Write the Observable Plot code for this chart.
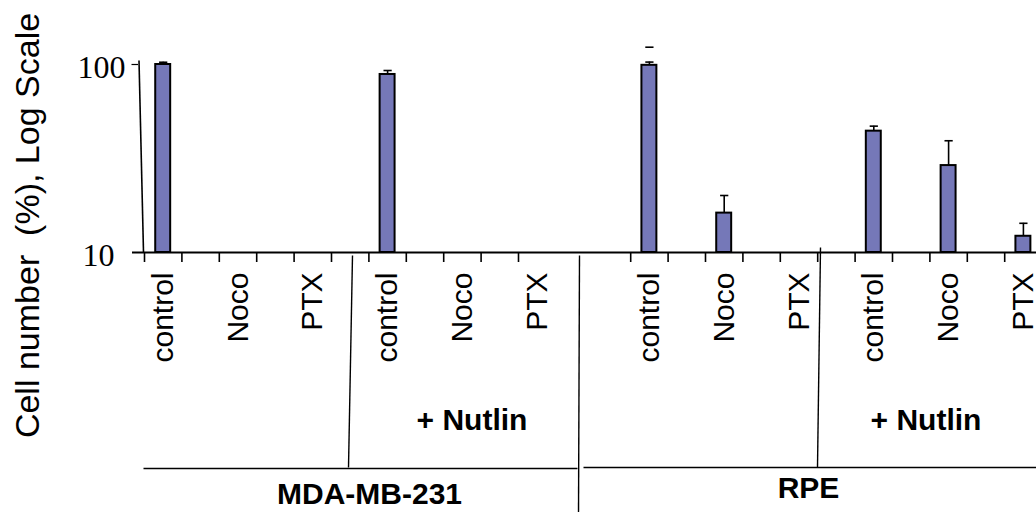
<!DOCTYPE html>
<html><head><meta charset="utf-8">
<script src="https://cdn.jsdelivr.net/npm/d3@7"></script>
<script src="https://cdn.jsdelivr.net/npm/@observablehq/plot@0.6"></script>
<style>
html,body{margin:0;padding:0;background:#fff;overflow:hidden;}
#chart svg{overflow:hidden;display:block;}
</style></head><body><div id="chart"></div>
<script>
// ---- data ----
const cellLines = ["MDA-MB-231", "RPE"];
const nutlinLabel = "+ Nutlin";
const categoryNames = ["control","Noco","PTX","control","Noco","PTX","control","Noco","PTX","control","Noco","PTX"];
const categorySlots = [0, 2, 4, 6, 8, 10, 13, 15, 17, 19, 21, 23];
const cellValues = [100, null, null, 88.5, null, null, 99, 16.2, null, 44.2, 29, 12.2];
const errorTops  = [102.8, null, null, 92.9, null, null, 103, 20.1, null, 47, 39.3, 14.3];
const strayCapSlots = [13];
const strayCapValues = [123.6];
const xTickSlots = [0,1,2,3,4,5,6,7,8,9,10,13,14,15,16,17,18,19,20,21,22,23,24];
const yTicks = [10, 100];
const yTickLabels = ["10", "100"];
const yTitle = "Cell number  (%), Log Scale";

// ---- layout ----
const W = 1036, H = 512;
const slotW = 37.4;
const xDomain = [0, 24], xRange = [144, 144 + 24 * slotW];
const yDomain = [10, 100], yRange = [252, 64];
const xS = d3.scaleLinear(xDomain, xRange);
const yS = d3.scaleLog(yDomain, yRange);
const px = v => xS.invert(v);
const py = v => yS.invert(v);

const bars = categorySlots.map((s, i) => ({slot: s, name: categoryNames[i], value: cellValues[i], err: errorTops[i]}));
const barData = bars.filter(d => d.value != null);
const errData = bars.filter(d => d.err != null);
const stray = strayCapSlots.map((s, i) => ({slot: s, value: strayCapValues[i]}));

const black = "#000";
const sans = "Liberation Sans, Arial, sans-serif";
const serif = "Liberation Serif, Times New Roman, serif";
const hw = 0.2, cw = 0.11;

const chart = Plot.plot({
  width: W, height: H,
  marginLeft: 144, marginRight: 0, marginTop: 64, marginBottom: H - 252,
  x: {type: "linear", domain: xDomain, range: xRange, axis: null},
  y: {type: "log", domain: yDomain, range: yRange, axis: null},
  marks: [
    // bars
    Plot.rect(barData, {x1: d => d.slot + 0.5 - hw, x2: d => d.slot + 0.5 + hw, y1: 10, y2: "value",
      fill: "#7578b8", stroke: black, strokeWidth: 2}),
    // error bars
    Plot.ruleX(errData, {x: d => d.slot + 0.5, y1: "value", y2: "err", stroke: black, strokeWidth: 1.6}),
    Plot.link(errData, {x1: d => d.slot + 0.5 - cw, x2: d => d.slot + 0.5 + cw, y1: "err", y2: "err", stroke: black, strokeWidth: 1.6}),
    Plot.link(stray, {x1: d => d.slot + 0.5 - cw, x2: d => d.slot + 0.5 + cw, y1: "value", y2: "value", stroke: black, strokeWidth: 1.6}),
    // baseline & y axis
    Plot.ruleY([10], {x1: px(132), x2: 24.5, stroke: black, strokeWidth: 1.8}),
    Plot.link([0], {x1: px(138.5), y1: py(60), x2: px(143), y2: 10, stroke: black, strokeWidth: 1.6}),
    Plot.link([100], {x1: px(131), x2: px(137.5), y1: d => d, y2: d => d, stroke: black, strokeWidth: 1.2}),
    // x ticks
    Plot.ruleX(xTickSlots, {x: d => d, y1: 10, y2: py(262), stroke: black, strokeWidth: 1.6}),
    // y tick labels
    Plot.text(yTicks, {x: d => d === 100 ? px(125) : px(114), y: d => d, text: (d, i) => yTickLabels[i],
      textAnchor: "end", lineAnchor: "middle", dy: 3, fontSize: 32, fontFamily: serif, fill: black}),
    // y title
    Plot.text([yTitle], {x: px(27.5), y: py(225), text: d => d, rotate: -90, textAnchor: "middle", lineAnchor: "middle",
      fontSize: 34, fontFamily: sans, fill: black}),
    // category labels
    Plot.text(bars, {x: d => d.slot + 0.5, y: 10, text: "name", rotate: -90, textAnchor: "end", lineAnchor: "middle",
      dy: 20, fontSize: 30, fontFamily: sans, fill: black}),
    // group dividers
    Plot.link([0], {x1: px(352), y1: py(255), x2: px(348), y2: py(467), stroke: black, strokeWidth: 1.4}),
    Plot.link([0], {x1: px(579), y1: py(255), x2: px(578), y2: py(515), stroke: black, strokeWidth: 1.4}),
    Plot.link([0], {x1: px(820), y1: py(247), x2: px(817), y2: py(467), stroke: black, strokeWidth: 1.4}),
    Plot.link([0], {x1: px(143), y1: py(468), x2: px(577), y2: py(468), stroke: black, strokeWidth: 1.4}),
    Plot.link([0], {x1: px(583), y1: py(467), x2: 24.5, y2: py(467), stroke: black, strokeWidth: 1.4}),
    // group labels
    Plot.text([nutlinLabel], {x: px(471.5), y: py(420), text: d => d, fontSize: 30, fontWeight: "bold", fontFamily: sans, fill: black, lineAnchor: "middle"}),
    Plot.text([nutlinLabel], {x: px(925.5), y: py(420), text: d => d, fontSize: 30, fontWeight: "bold", fontFamily: sans, fill: black, lineAnchor: "middle"}),
    Plot.text([cellLines[0]], {x: px(369), y: py(494), text: d => d, fontSize: 30, fontWeight: "bold", fontFamily: sans, fill: black, lineAnchor: "middle"}),
    Plot.text([cellLines[1]], {x: px(808), y: py(488), text: d => d, fontSize: 30, fontWeight: "bold", fontFamily: sans, fill: black, lineAnchor: "middle"})
  ]
});
document.getElementById("chart").appendChild(chart);
</script>
</body></html>
